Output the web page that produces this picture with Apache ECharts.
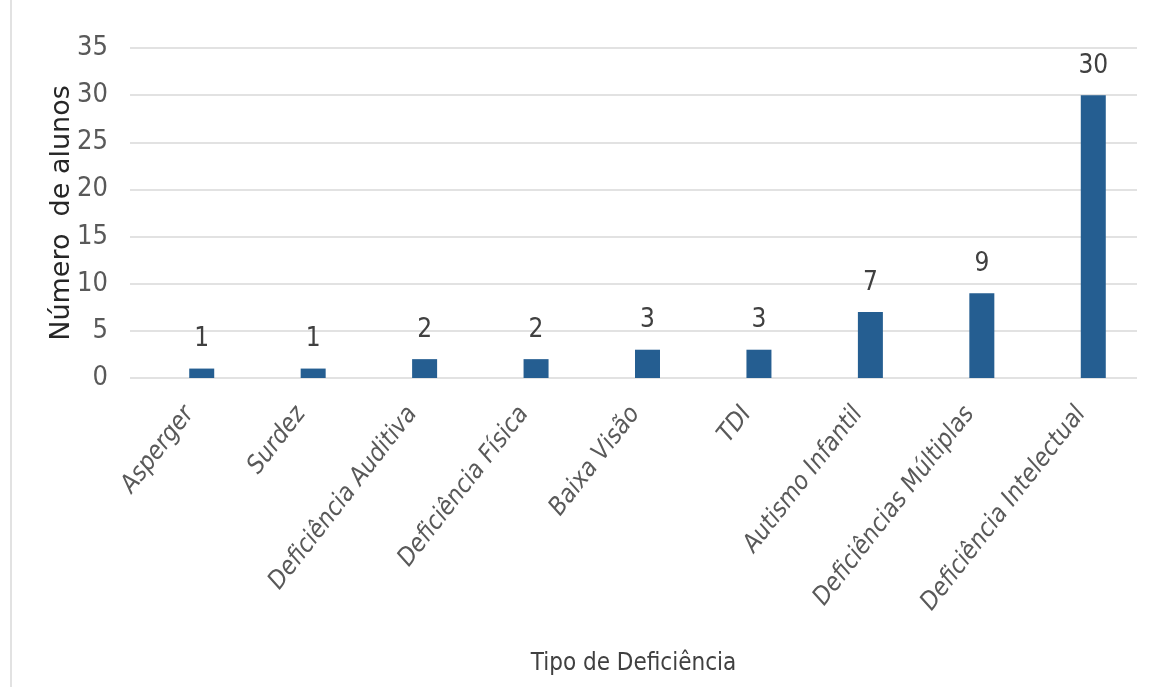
<!DOCTYPE html>
<html>
<head>
<meta charset="utf-8">
<script src="https://cdn.jsdelivr.net/npm/echarts@6/dist/echarts.min.js"></script>
<style>
html,body{margin:0;padding:0;background:#fff;}
#chart{width:1149px;height:687px;}
</style>
</head>
<body>
<div id="chart"></div>
<script>
const categories = ["Asperger", "Surdez", "Deficiência Auditiva", "Deficiência Física", "Baixa Visão", "TDI", "Autismo Infantil", "Deficiências Múltiplas", "Deficiência Intelectual"];
const values = [1, 1, 2, 2, 3, 3, 7, 9, 30];
const yTicks = [0, 5, 10, 15, 20, 25, 30, 35];

const narrow = '"Liberation Sans Narrow", "DejaVu Sans Condensed", sans-serif';
const chart = echarts.init(document.getElementById('chart'));
chart.setOption({
  animation: false,
  backgroundColor: '#ffffff',
  graphic: [{
    type: 'line',
    shape: { x1: 11, y1: 0, x2: 11, y2: 687 },
    style: { stroke: '#d9d9d9', lineWidth: 1.5 }
  }],
  grid: [
    { left: 130, right: 12, top: 48, bottom: 309 },
    { left: 146, right: -4, top: 48, bottom: 309 }
  ],
  xAxis: [
    {
      gridIndex: 0, type: 'category', data: categories,
      axisLine: { show: false }, axisTick: { show: false }, axisLabel: { show: false },
      name: 'Tipo de Deficiência', nameLocation: 'middle', nameGap: 274,
      nameTextStyle: { fontFamily: narrow, fontSize: 24, color: '#404040' }
    },
    {
      gridIndex: 1, type: 'category', data: categories,
      axisLine: { show: false }, axisTick: { show: false },
      axisLabel: {
        interval: 0, rotate: 52, margin: 16, padding: [0, 20, 0, 0],
        fontFamily: narrow, fontStyle: 'italic', fontSize: 25, color: '#595959'
      }
    }
  ],
  yAxis: [
    {
      gridIndex: 0, type: 'value', min: yTicks[0], max: yTicks[yTicks.length - 1], interval: 5,
      axisLine: { show: false }, axisTick: { show: false },
      axisLabel: { margin: 22, fontFamily: narrow, fontSize: 27, color: '#595959' },
      splitLine: { lineStyle: { color: '#d9d9d9', width: 1.5 } },
      name: 'Número  de alunos', nameLocation: 'middle', nameGap: 55, nameRotate: 90,
      nameMoveOverlap: false,
      nameTextStyle: { fontFamily: '"DejaVu Sans", sans-serif', fontSize: 27, color: '#262626' }
    },
    { gridIndex: 1, type: 'value', min: 0, max: 35, show: false }
  ],
  series: [{
    type: 'bar', xAxisIndex: 1, yAxisIndex: 1,
    data: values, barWidth: 25,
    itemStyle: { color: '#255E91' },
    label: {
      show: true, position: 'top', distance: 16,
      fontFamily: narrow, fontSize: 26, color: '#404040'
    }
  }]
});
</script>
</body>
</html>
